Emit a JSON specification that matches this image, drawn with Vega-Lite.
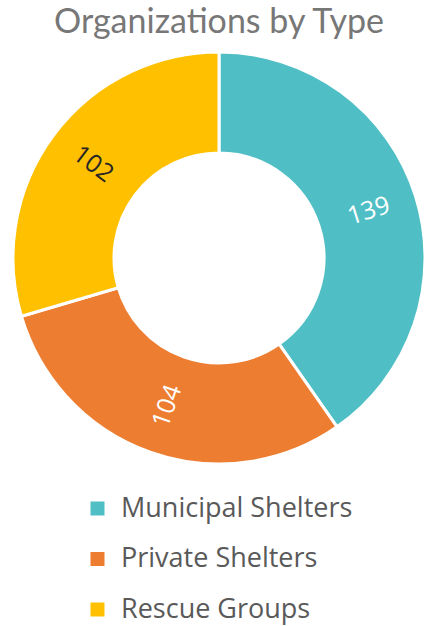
{
  "$schema": "https://vega.github.io/schema/vega-lite/v6.json",
  "autosize": {"type": "none"},
  "width": 410,
  "height": 412,
  "padding": {"left": 14, "top": 52, "right": 0, "bottom": 162},
  "background": "white",
  "title": {
    "text": "Organizations by Type",
    "font": "Lato",
    "fontSize": 34,
    "fontWeight": "normal",
    "color": "#777777",
    "anchor": "middle",
    "offset": 6
  },
  "data": {
    "values": [
      {"type": "Municipal Shelters", "value": 139},
      {"type": "Private Shelters", "value": 104},
      {"type": "Rescue Groups", "value": 102}
    ]
  },
  "encoding": {
    "theta": {"field": "value", "type": "quantitative", "stack": true},
    "order": {"field": "type", "type": "nominal"}
  },
  "layer": [
    {
      "mark": {"type": "arc", "outerRadius": 206, "innerRadius": 105, "stroke": "white", "strokeWidth": 3},
      "encoding": {
        "color": {
          "field": "type",
          "type": "nominal",
          "scale": {"domain": ["Municipal Shelters", "Private Shelters", "Rescue Groups"], "range": ["#4FBFC5", "#ED7D31", "#FFC000"]},
          "legend": {
            "title": null,
            "orient": "none",
            "legendX": 70,
            "legendY": 443,
            "symbolType": "square",
            "symbolSize": 196,
            "symbolStrokeWidth": 0,
            "symbolOpacity": 1,
            "labelFont": "Open Sans",
            "labelFontSize": 27,
            "labelColor": "#595959",
            "labelOffset": 10,
            "rowPadding": 22.5,
            "labelLimit": 400
          }
        }
      }
    },
    {
      "mark": {"type": "text", "radius": 157, "font": "Open Sans", "fontSize": 25},
      "encoding": {
        "text": {"field": "value", "type": "quantitative"},
        "angle": {
          "field": "type",
          "type": "nominal",
          "scale": {"type": "ordinal", "domain": ["Municipal Shelters", "Private Shelters", "Rescue Groups"], "range": [-17.5, -70.75, 36.7]},
          "legend": null
        },
        "color": {
          "field": "type",
          "type": "nominal",
          "scale": {"domain": ["Municipal Shelters", "Private Shelters", "Rescue Groups"], "range": ["#FFFFFF", "#FFFFFF", "#262626"]},
          "legend": null
        }
      }
    }
  ],
  "resolve": {"scale": {"color": "independent"}},
  "config": {"view": {"stroke": null}}
}
